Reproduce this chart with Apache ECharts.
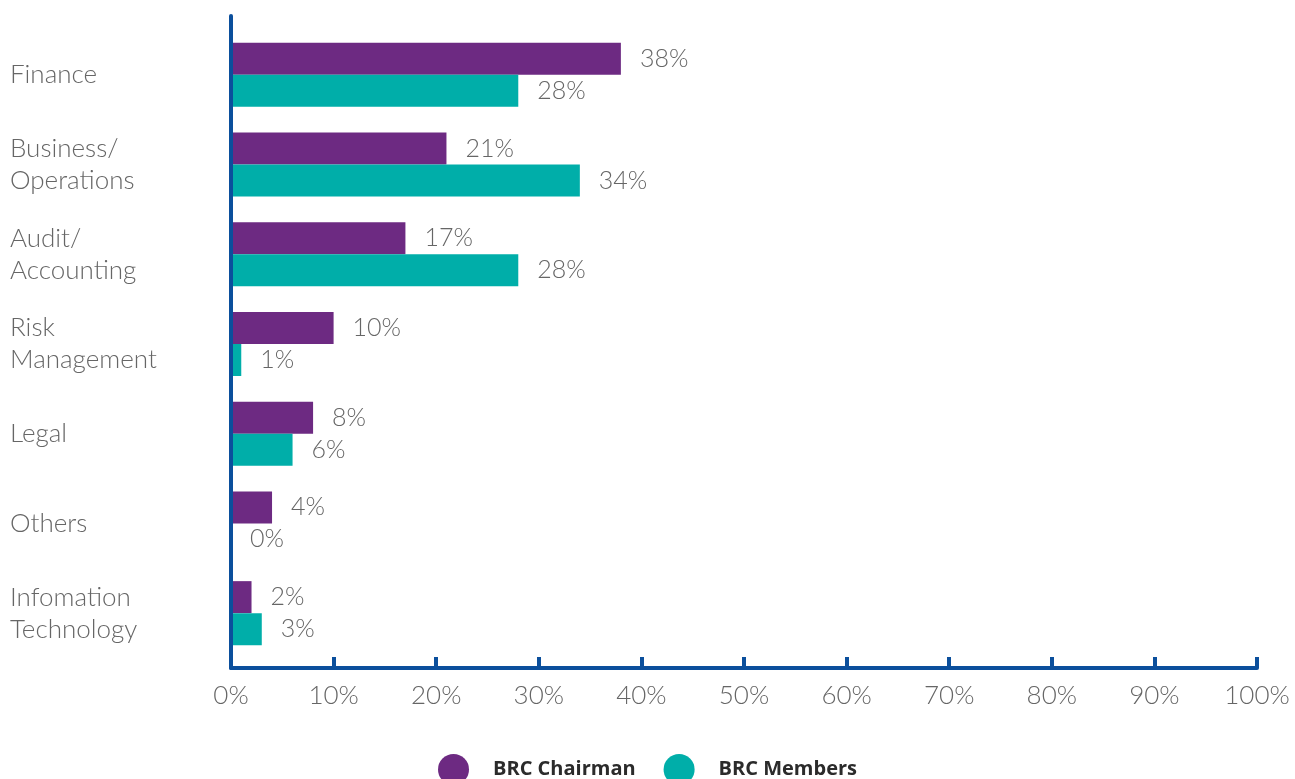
<!DOCTYPE html>
<html>
<head>
<meta charset="utf-8">
<script src="https://cdn.jsdelivr.net/npm/echarts@6/dist/echarts.min.js"></script>
<style>
  html, body { margin: 0; padding: 0; background: #ffffff; }
  #chart { width: 1295px; height: 779px; }
</style>
</head>
<body>
<div id="chart"></div>
<script>
// Background of BRC chairmen and members, share of respondents by field
const categories = ['Finance', 'Business/\nOperations', 'Audit/\nAccounting', 'Risk\nManagement', 'Legal', 'Others', 'Infomation\nTechnology'];
const chairmanValues = [38, 21, 17, 10, 8, 4, 2];
const memberValues = [28, 34, 28, 1, 6, 0, 3];
const seriesNames = ['BRC Chairman', 'BRC Members'];
const percentTicks = [0, 10, 20, 30, 40, 50, 60, 70, 80, 90, 100];

const PURPLE = '#6d2a82';
const TEAL = '#00aea9';
const AXIS_BLUE = '#0b4f9c';
const TEXT_GREY = '#666666';
const FONT = 'Lato, "Open Sans", sans-serif';

const chart = echarts.init(document.getElementById('chart'));

const barLabel = {
  show: true,
  position: 'right',
  distance: 19,
  formatter: p => p.value + '%',
  color: TEXT_GREY,
  fontFamily: FONT,
  fontWeight: 300,
  fontSize: 25
};

chart.setOption({
  backgroundColor: '#ffffff',
  animation: false,
  grid: [
    // bars and category labels
    { left: 231, right: 38, top: 30, height: 628, containLabel: false },
    // framing axes with the percentage scale
    { left: 231, right: 38, top: 16, height: 652, containLabel: false }
  ],
  legend: {
    data: seriesNames,
    top: 749,
    left: 'center',
    icon: 'circle',
    itemWidth: 31,
    itemHeight: 31,
    itemGap: 28,
    textStyle: {
      color: '#2b2b2b',
      fontFamily: '"Open Sans", sans-serif',
      fontWeight: 'bold',
      fontSize: 20,
      padding: [0, 0, 0, 19]
    }
  },
  xAxis: [
    { gridIndex: 0, type: 'value', min: 0, max: 100, show: false },
    {
      gridIndex: 1,
      type: 'value',
      min: 0,
      max: 100,
      interval: 10,
      z: 5,
      axisLine: { show: true, lineStyle: { color: AXIS_BLUE, width: 4 } },
      axisTick: { show: true, inside: true, length: 11, lineStyle: { color: AXIS_BLUE, width: 4 } },
      splitLine: { show: false },
      axisLabel: {
        color: TEXT_GREY,
        fontFamily: FONT,
        fontWeight: 300,
        fontSize: 26,
        margin: 15,
        formatter: v => (percentTicks.includes(v) ? v + '%' : '')
      }
    }
  ],
  yAxis: [
    {
      gridIndex: 0,
      type: 'category',
      data: categories,
      inverse: true,
      axisLine: { show: false },
      axisTick: { show: false },
      axisLabel: {
        align: 'left',
        margin: 221,
        color: TEXT_GREY,
        fontFamily: FONT,
        fontWeight: 300,
        fontSize: 26,
        lineHeight: 32
      }
    },
    {
      gridIndex: 1,
      type: 'value',
      min: 0,
      max: 1,
      z: 5,
      axisLine: { show: true, lineStyle: { color: AXIS_BLUE, width: 4 } },
      axisTick: { show: false },
      axisLabel: { show: false },
      splitLine: { show: false }
    }
  ],
  series: [
    {
      name: seriesNames[0],
      type: 'bar',
      xAxisIndex: 0,
      yAxisIndex: 0,
      data: chairmanValues,
      barWidth: 32,
      barGap: '0%',
      itemStyle: { color: PURPLE },
      label: barLabel
    },
    {
      name: seriesNames[1],
      type: 'bar',
      xAxisIndex: 0,
      yAxisIndex: 0,
      data: memberValues,
      barWidth: 32,
      barGap: '0%',
      itemStyle: { color: TEAL },
      label: barLabel
    }
  ]
});
</script>
</body>
</html>
